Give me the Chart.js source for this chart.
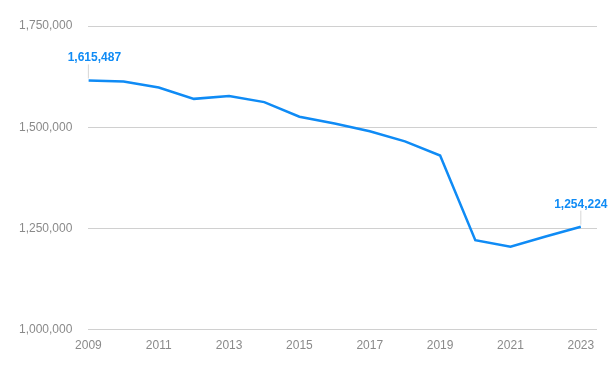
<!DOCTYPE html>
<html>
<head>
<meta charset="utf-8">
<script src="https://cdn.jsdelivr.net/npm/chart.js@4"></script>
<style>
  html, body { margin: 0; padding: 0; background: #fff; }
  #wrap { width: 615px; height: 371px; }
</style>
</head>
<body>
<div id="wrap"><canvas id="myChart"></canvas></div>
<script>
const years = [2009, 2010, 2011, 2012, 2013, 2014, 2015, 2016, 2017, 2018, 2019, 2020, 2021, 2022, 2023];
const values = [1615487, 1613000, 1598000, 1570000, 1577000, 1562000, 1526000, 1509000, 1490000, 1465000, 1430000, 1221000, 1205000, 1230000, 1254224];
const xTicks = [2009, 2011, 2013, 2015, 2017, 2019, 2021, 2023];
const yTicks = [1000000, 1250000, 1500000, 1750000];

const blue = '#0f8bf5';

// labels on first and last point, with a thin grey stem
const endLabels = {
  id: 'endLabels',
  afterDatasetsDraw(chart) {
    const ctx = chart.ctx;
    const pts = chart.getDatasetMeta(0).data;
    const list = [[0, 6], [pts.length - 1, 0]];
    ctx.save();
    list.forEach(([i, dx]) => {
      const p = pts[i];
      ctx.strokeStyle = '#d6d6d6';
      ctx.lineWidth = 1;
      ctx.beginPath();
      ctx.moveTo(p.x, p.y - 2);
      ctx.lineTo(p.x, p.y - 16);
      ctx.stroke();
      ctx.fillStyle = blue;
      ctx.font = 'bold 12px "Liberation Sans", Arial, sans-serif';
      ctx.textAlign = 'center';
      ctx.textBaseline = 'alphabetic';
      ctx.fillText(values[i].toLocaleString('en-US'), p.x + dx, p.y - 19);
    });
    ctx.restore();
  }
};

new Chart(document.getElementById('myChart'), {
  type: 'line',
  data: {
    datasets: [{
      data: years.map((y, i) => ({ x: y, y: values[i] })),
      borderColor: blue,
      borderWidth: 2.5,
      pointRadius: 0,
      tension: 0,
      fill: false
    }]
  },
  options: {
    responsive: true,
    maintainAspectRatio: false,
    animation: false,
    layout: { padding: { top: 26, right: 18, left: 3, bottom: 9 } },
    plugins: {
      legend: { display: false },
      tooltip: { enabled: false }
    },
    scales: {
      x: {
        type: 'linear',
        min: 2009,
        max: 2023.46,
        afterBuildTicks: (axis) => { axis.ticks = xTicks.map(v => ({ value: v })); },
        grid: { display: false, drawTicks: false },
        border: { display: false },
        ticks: {
          color: '#8a8a8a',
          font: { family: '"Liberation Sans", Arial, sans-serif', size: 12 },
          padding: 9,
          maxRotation: 0,
          autoSkip: false,
          callback: (v) => String(v)
        }
      },
      y: {
        min: 1000000,
        max: 1750000,
        afterBuildTicks: (axis) => { axis.ticks = yTicks.map(v => ({ value: v })); },
        grid: { color: '#d0d0d0', drawTicks: false, lineWidth: 1 },
        border: { display: false },
        ticks: {
          color: '#8a8a8a',
          font: { family: '"Liberation Sans", Arial, sans-serif', size: 12 },
          padding: 16,
          callback: (v) => v.toLocaleString('en-US')
        }
      }
    }
  },
  plugins: [endLabels]
});
</script>
</body>
</html>
